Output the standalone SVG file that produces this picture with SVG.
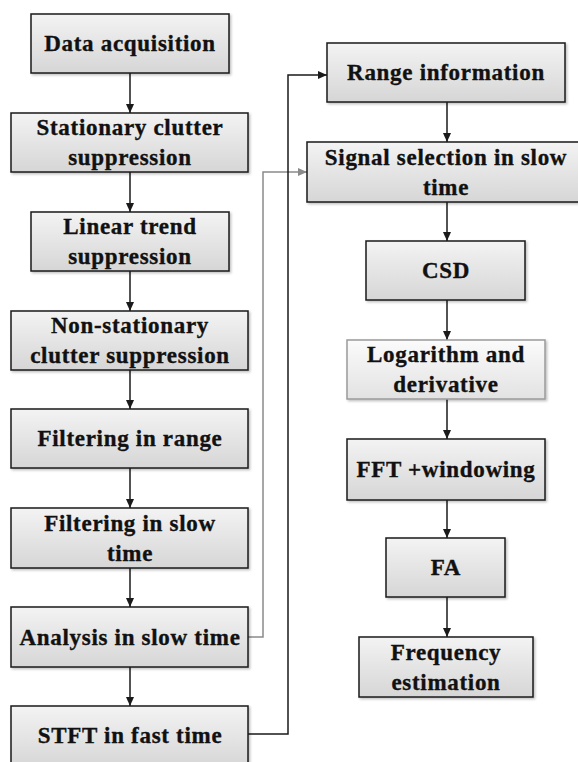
<svg xmlns="http://www.w3.org/2000/svg" width="578" height="762" viewBox="0 0 578 762">
  <style>
    .box { fill: url(#boxFill); stroke: #1a1a1a; stroke-width: 1.5; }
    .boxLight { fill: url(#boxFillLight); stroke: #9a9a9a; stroke-width: 1.5; }
    .label { font-family: 'Liberation Serif', 'Times New Roman', serif; font-weight: 700; font-size: 23px; letter-spacing: 0.7px; fill: #111; stroke: #111; stroke-width: 0.35; text-anchor: middle; }
    .link { fill: none; stroke: #1a1a1a; stroke-width: 1.5; }
    .linkGray { fill: none; stroke: #8a8a8a; stroke-width: 1.5; }
  </style>
  <defs>
    <linearGradient id="boxFill" x1="0" y1="0" x2="0" y2="1">
      <stop offset="0" stop-color="#f3f3f3"/>
      <stop offset="1" stop-color="#d6d6d6"/>
    </linearGradient>
    <linearGradient id="boxFillLight" x1="0" y1="0" x2="0" y2="1">
      <stop offset="0" stop-color="#fbfbfb"/>
      <stop offset="1" stop-color="#e2e2e2"/>
    </linearGradient>
    <filter id="shadow" x="-5%" y="-5%" width="110%" height="120%">
      <feDropShadow dx="1.5" dy="1.5" stdDeviation="0.8" flood-color="#000" flood-opacity="0.25"/>
    </filter>
    <marker id="arrow" markerWidth="10" markerHeight="10" refX="9" refY="5" orient="auto" markerUnits="userSpaceOnUse">
      <path d="M0,1 L9,5 L0,9 Z" fill="#1a1a1a"/>
    </marker>
    <marker id="arrowGray" markerWidth="10" markerHeight="10" refX="9" refY="5" orient="auto" markerUnits="userSpaceOnUse">
      <path d="M0,1 L9,5 L0,9 Z" fill="#8a8a8a"/>
    </marker>
  </defs>

  <!-- connectors -->
  <g id="connectors">
    <line class="link" x1="130" y1="73" x2="130" y2="113" marker-end="url(#arrow)"/>
    <line class="link" x1="130" y1="172" x2="130" y2="212" marker-end="url(#arrow)"/>
    <line class="link" x1="130" y1="271" x2="130" y2="311" marker-end="url(#arrow)"/>
    <line class="link" x1="130" y1="370" x2="130" y2="409" marker-end="url(#arrow)"/>
    <line class="link" x1="130" y1="468" x2="130" y2="508" marker-end="url(#arrow)"/>
    <line class="link" x1="130" y1="568" x2="130" y2="607" marker-end="url(#arrow)"/>
    <line class="link" x1="130" y1="667" x2="130" y2="706" marker-end="url(#arrow)"/>

    <polyline class="linkGray" points="248,637 263,637 263,172 307,172" marker-end="url(#arrowGray)"/>
    <polyline class="link" points="248,734 288,734 288,75 327,75" marker-end="url(#arrow)"/>

    <line class="link" x1="447" y1="102" x2="447" y2="142" marker-end="url(#arrow)"/>
    <line class="link" x1="447" y1="202" x2="447" y2="241" marker-end="url(#arrow)"/>
    <line class="link" x1="447" y1="300" x2="447" y2="340" marker-end="url(#arrow)"/>
    <line class="link" x1="447" y1="399" x2="447" y2="439" marker-end="url(#arrow)"/>
    <line class="link" x1="447" y1="500" x2="447" y2="538" marker-end="url(#arrow)"/>
    <line class="link" x1="447" y1="597" x2="447" y2="637" marker-end="url(#arrow)"/>
  </g>

  <!-- left column -->
  <g id="data-acquisition">
    <rect class="box" filter="url(#shadow)" x="31" y="14" width="198" height="59"/>
    <text class="label" x="130" y="51">Data acquisition</text>
  </g>
  <g id="stationary-clutter">
    <rect class="box" filter="url(#shadow)" x="11" y="113" width="237" height="59"/>
    <text class="label" x="130" y="135">Stationary clutter</text>
    <text class="label" x="130" y="165">suppression</text>
  </g>
  <g id="linear-trend">
    <rect class="box" filter="url(#shadow)" x="31" y="212" width="198" height="59"/>
    <text class="label" x="130" y="234">Linear trend</text>
    <text class="label" x="130" y="264">suppression</text>
  </g>
  <g id="non-stationary-clutter">
    <rect class="box" filter="url(#shadow)" x="11" y="311" width="237" height="59"/>
    <text class="label" x="130" y="333">Non-stationary</text>
    <text class="label" x="130" y="363">clutter suppression</text>
  </g>
  <g id="filtering-range">
    <rect class="box" filter="url(#shadow)" x="11" y="409" width="237" height="59"/>
    <text class="label" x="130" y="446">Filtering in range</text>
  </g>
  <g id="filtering-slow-time">
    <rect class="box" filter="url(#shadow)" x="11" y="508" width="237" height="60"/>
    <text class="label" x="130" y="531">Filtering in slow</text>
    <text class="label" x="130" y="561">time</text>
  </g>
  <g id="analysis-slow-time">
    <rect class="box" filter="url(#shadow)" x="11" y="607" width="237" height="60"/>
    <text class="label" x="130" y="645">Analysis in slow time</text>
  </g>
  <g id="stft-fast-time">
    <rect class="box" filter="url(#shadow)" x="11" y="706" width="237" height="62"/>
    <text class="label" x="130" y="743">STFT in fast time</text>
  </g>

  <!-- right column -->
  <g id="range-information">
    <rect class="box" filter="url(#shadow)" x="327" y="43" width="238" height="59"/>
    <text class="label" x="446" y="80">Range information</text>
  </g>
  <g id="signal-selection">
    <rect class="box" filter="url(#shadow)" x="307" y="142" width="275" height="60"/>
    <text class="label" x="446" y="165">Signal selection in slow</text>
    <text class="label" x="446" y="195">time</text>
  </g>
  <g id="csd">
    <rect class="box" filter="url(#shadow)" x="366" y="241" width="159" height="59"/>
    <text class="label" x="446" y="278">CSD</text>
  </g>
  <g id="logarithm-derivative">
    <rect class="boxLight" filter="url(#shadow)" x="347" y="340" width="198" height="59"/>
    <text class="label" x="446" y="362">Logarithm and</text>
    <text class="label" x="446" y="392">derivative</text>
  </g>
  <g id="fft-windowing">
    <rect class="box" filter="url(#shadow)" x="347" y="439" width="198" height="61"/>
    <text class="label" x="446" y="477">FFT +windowing</text>
  </g>
  <g id="fa">
    <rect class="box" filter="url(#shadow)" x="386" y="538" width="119" height="59"/>
    <text class="label" x="446" y="575">FA</text>
  </g>
  <g id="frequency-estimation">
    <rect class="box" filter="url(#shadow)" x="359" y="637" width="174" height="60"/>
    <text class="label" x="446" y="660">Frequency</text>
    <text class="label" x="446" y="690">estimation</text>
  </g>
</svg>
